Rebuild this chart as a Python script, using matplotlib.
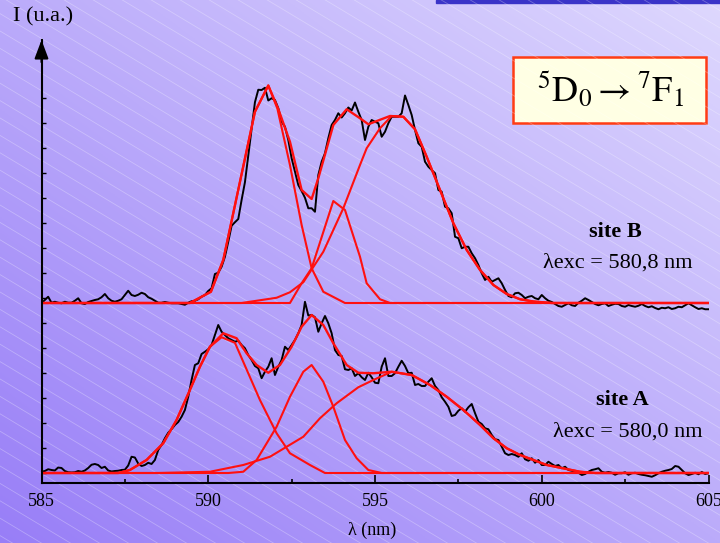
import numpy as np
import matplotlib.pyplot as plt
from matplotlib.patches import Rectangle

plt.rcParams['font.family'] = ['Liberation Serif', 'DejaVu Serif']
plt.rcParams['mathtext.fontset'] = 'stix'

# measured spectra, one value every 0.1 nm from 585 to 605 nm
site_a = [0.05, 0.08, 0.15, 0.12, 0.10, 0.22, 0.20, 0.08, 0.03, 0.02,
          0.03, 0.08, 0.05, 0.10, 0.20, 0.33, 0.36, 0.32, 0.20, 0.25,
          0.10, 0.06, 0.08, 0.09, 0.12, 0.13, 0.30, 0.65, 0.62, 0.38,
          0.28, 0.32, 0.41, 0.36, 0.52, 0.92, 1.12, 1.39, 1.61, 1.75,
          1.92, 2.04, 2.25, 2.52, 3.05, 3.72, 4.32, 4.39, 4.76, 4.85,
          4.95, 5.12, 5.52, 5.92, 5.65, 5.52, 5.39, 5.32, 5.25, 5.29,
          5.12, 4.99, 4.72, 4.52, 4.28, 4.19, 3.79, 4.05, 4.25, 4.59,
          3.92, 4.25, 4.52, 5.05, 4.92, 5.12, 5.32, 5.59, 5.92, 6.85,
          6.30, 6.32, 6.23, 5.65, 5.99, 6.28, 5.99, 5.59, 4.92, 4.72,
          4.68, 4.15, 4.12, 4.19, 3.88, 3.99, 3.83, 3.72, 4.01, 3.83,
          3.61, 3.59, 4.25, 4.59, 3.88, 3.88, 3.99, 4.25, 4.49, 4.28,
          3.99, 4.01, 3.52, 3.56, 3.48, 3.48, 3.65, 3.79, 3.48, 3.32,
          3.03, 2.85, 2.65, 2.28, 2.32, 2.49, 2.59, 2.45, 2.63, 2.76,
          2.39, 2.05, 1.96, 1.79, 1.75, 1.52, 1.35, 1.32, 1.05, 0.79,
          0.72, 0.76, 0.72, 0.65, 0.79, 0.55, 0.49, 0.59, 0.41, 0.52,
          0.32, 0.32, 0.45, 0.36, 0.28, 0.32, 0.19, 0.25, 0.12, 0.09,
          0.05, 0.01, -0.08, -0.04, 0.05, 0.12, 0.15, 0.19, 0.05, 0.01,
          0.04, 0.01, -0.07, -0.01, -0.01, 0.03, -0.07, -0.01, 0.01, -0.04,
          -0.07, -0.09, -0.12, -0.15, -0.09, -0.01, 0.05, 0.09, 0.12, 0.16,
          0.28, 0.25, 0.12, -0.01, -0.08, -0.04, 0.01, -0.05, 0.04, -0.04, -0.01]

site_b = [6.79, 6.92, 7.05, 6.81, 6.85, 6.81, 6.79, 6.85, 6.81, 6.81,
          6.89, 6.99, 6.79, 6.76, 6.84, 6.88, 6.92, 6.95, 7.03, 7.16,
          6.99, 6.89, 6.85, 6.89, 6.95, 7.12, 7.29, 7.12, 7.08, 7.13,
          7.21, 7.16, 7.03, 6.97, 6.89, 6.81, 6.81, 6.84, 6.81, 6.79,
          6.79, 6.79, 6.76, 6.73, 6.81, 6.87, 6.89, 6.95, 7.05, 7.12,
          7.28, 7.39, 7.96, 8.01, 8.25, 8.65, 9.25, 9.89, 10.03, 10.16,
          10.92, 11.63, 12.69, 13.76, 14.83, 15.33, 15.32, 15.41, 14.90, 14.99,
          14.92, 14.59, 14.05, 13.85, 13.32, 12.59, 12.05, 11.52, 11.28, 11.01,
          10.59, 10.59, 10.45, 11.92, 12.45, 12.79, 13.39, 13.92, 14.12, 14.39,
          14.22, 14.39, 14.62, 14.50, 14.82, 14.45, 14.12, 13.32, 13.85, 14.12,
          14.05, 13.99, 13.45, 13.65, 13.99, 14.25, 14.25, 14.25, 14.39, 15.10,
          14.72, 14.32, 13.72, 13.19, 13.05, 12.45, 12.25, 12.12, 11.99, 11.32,
          11.25, 10.65, 10.59, 10.39, 9.45, 9.39, 8.99, 9.05, 9.05, 8.79,
          8.59, 8.32, 7.99, 7.72, 7.85, 7.65, 7.72, 7.79, 7.59, 7.32,
          7.08, 7.03, 7.19, 7.21, 7.12, 6.99, 7.05, 7.08, 6.99, 6.95,
          7.12, 6.99, 6.89, 6.84, 6.76, 6.68, 6.65, 6.72, 6.79, 6.71,
          6.68, 6.81, 6.89, 6.99, 6.92, 6.84, 6.76, 6.71, 6.76, 6.79,
          6.68, 6.73, 6.77, 6.76, 6.68, 6.65, 6.72, 6.68, 6.65, 6.69,
          6.76, 6.68, 6.63, 6.67, 6.60, 6.55, 6.61, 6.59, 6.63, 6.56,
          6.59, 6.65, 6.63, 6.71, 6.79, 6.71, 6.63, 6.56, 6.59, 6.55, 6.55]

# fitted curves (sum and components)
b_sum_x = [585, 589.45, 590.08, 590.45, 591.4, 591.8, 592.1, 592.45, 592.8, 593.1, 593.3,
           593.75, 594.15, 594.55, 594.8, 595.45, 595.85, 596.2, 596.55, 596.95, 597.35,
           597.75, 598.15, 598.55, 598.95, 599.35, 599.75, 600.3, 605]
b_sum_y = [6.8, 6.8, 7.25, 8.52, 14.45, 15.5, 14.56, 13.25, 11.32, 10.96, 11.79,
           13.92, 14.55, 14.19, 13.95, 14.28, 14.25, 13.75, 12.65, 11.32, 9.99,
           8.92, 8.12, 7.52, 7.16, 6.95, 6.86, 6.8, 6.8]
b1_x = [585, 589.45, 590.08, 590.45, 591.4, 591.8, 592.07, 592.45, 592.8, 593.1, 593.45, 594.1, 605]
b1_y = [6.8, 6.8, 7.25, 8.52, 14.45, 15.5, 14.59, 12.32, 9.92, 8.19, 7.25, 6.8, 6.8]
b2_x = [585, 592.45, 592.8, 593.1, 593.75, 594.1, 594.55, 594.75, 595.15, 595.45, 605]
b2_y = [6.8, 6.8, 7.59, 8.19, 10.88, 10.52, 8.65, 7.59, 6.95, 6.8, 6.8]
b3_x = [585, 591.0, 592.05, 592.45, 592.85, 593.45, 594.05, 594.55, 594.75, 595.15, 595.5,
        595.85, 596.2, 596.55, 596.95, 597.35, 597.75, 598.15, 598.55, 598.95, 599.35,
        599.75, 600.3, 605]
b3_y = [6.8, 6.8, 7.01, 7.23, 7.63, 8.85, 10.59, 12.32, 12.99, 13.79, 14.28,
        14.25, 13.75, 12.65, 11.32, 9.99, 8.92, 8.12, 7.52, 7.16, 6.95,
        6.86, 6.8, 6.8]

a_sum_x = [585, 587.3, 587.65, 588.15, 588.65, 589.05, 589.45, 589.75, 590.05, 590.45,
           590.85, 591.15, 591.45, 591.8, 592.15, 592.5, 592.8, 593.1, 593.45, 593.75,
           594.15, 594.5, 594.95, 595.5, 596.1, 596.65, 597.15, 597.65, 598.15, 598.55,
           598.95, 599.35, 600.15, 601.15, 601.6, 605]
a_sum_y = [0, 0, 0.12, 0.52, 1.19, 2.12, 3.32, 4.25, 5.05, 5.59,
           5.39, 4.79, 4.32, 4.01, 4.32, 5.05, 5.85, 6.32, 5.92, 5.19,
           4.32, 4.01, 3.99, 4.05, 3.92, 3.52, 3.05, 2.52, 1.92, 1.39,
           0.99, 0.72, 0.32, 0.05, 0, 0]
a1_x = [585, 587.3, 587.65, 588.15, 588.65, 589.05, 589.45, 589.75, 590.05, 590.4,
        590.8, 591.55, 592.05, 592.45, 593.05, 593.5, 605]
a1_y = [0, 0, 0.12, 0.52, 1.19, 2.12, 3.32, 4.25, 5.05, 5.43,
        5.21, 2.92, 1.59, 0.79, 0.32, 0, 0]
a2_x = [585, 590.6, 591.05, 591.45, 592.05, 592.45, 592.85, 593.1, 593.45, 593.75,
        594.1, 594.45, 594.8, 595.2, 605]
a2_y = [0, 0, 0.05, 0.52, 1.85, 3.05, 4.05, 4.32, 3.65, 2.65,
        1.32, 0.59, 0.12, 0, 0]
a3_x = [585, 588.5, 590.05, 591.05, 591.85, 592.35, 592.85, 593.35, 593.85, 594.5,
        594.95, 595.5, 596.1, 596.65, 597.15, 597.65, 598.15, 598.55, 598.95, 599.35,
        600.15, 601.15, 601.6, 605]
a3_y = [0, 0, 0.05, 0.32, 0.65, 1.05, 1.45, 2.19, 2.79, 3.43,
        3.72, 4.05, 3.92, 3.52, 3.05, 2.52, 1.92, 1.39, 0.99, 0.72,
        0.32, 0.05, 0, 0]

x_ticks = [585, 590, 595, 600, 605]

lam_a = 585 + 0.1 * np.arange(len(site_a))
lam_b = 585 + 0.1 * np.arange(len(site_b))

fig = plt.figure(figsize=(7.2, 5.43), dpi=100)

# slide background: diagonal gradient + faint hatching
bg = fig.add_axes([0, 0, 1, 1], zorder=0)
c0 = np.array([152, 126, 247]) / 255
c1 = np.array([222, 216, 254]) / 255
xx, yy = np.meshgrid(np.linspace(0, 1, 300), np.linspace(1, 0, 230))
t = (xx + yy) / 2
bg.imshow(c0 + (c1 - c0) * t[..., None], extent=[0, 720, 0, 543], aspect='auto', origin='upper')
for c in np.arange(-10, 1000, 17.4):
    bg.plot([0, 720], [c, c - 0.6 * 720], color='white', lw=0.6, alpha=0.28)
bg.add_patch(Rectangle((436, 540.5), 284, 2.5, color='#3a34c8'))
bg.add_patch(Rectangle((513, 420), 193, 66, facecolor='#ffffe4', edgecolor='#ff3c14', lw=1.8))
bg.set_xlim(0, 720)
bg.set_ylim(0, 543)
bg.axis('off')

ax = fig.add_axes([41.5 / 720, 60 / 543, 667 / 720, 443 / 543], zorder=1)
ax.patch.set_alpha(0)

red = '#ff1010'
ax.plot(lam_b, site_b, color='black', lw=1.4)
ax.plot(lam_a, site_a, color='black', lw=1.4)
for xs, ys in [(b1_x, b1_y), (b2_x, b2_y), (b3_x, b3_y), (a1_x, a1_y), (a2_x, a2_y), (a3_x, a3_y)]:
    ax.plot(xs, ys, color=red, lw=1.5)
ax.plot(b_sum_x, b_sum_y, color=red, lw=1.7)
ax.plot(a_sum_x, a_sum_y, color=red, lw=1.7)

ax.set_xlim(585, 605)
ax.set_ylim(-0.4, 17.32)
ax.spines['top'].set_visible(False)
ax.spines['right'].set_visible(False)
ax.spines['left'].set_linewidth(1.5)
ax.spines['bottom'].set_linewidth(1.5)

ax.set_xticks(x_ticks)
ax.set_xticks([587.5, 592.5, 597.5, 602.5], minor=True)
ax.set_yticks(range(16))
ax.set_yticklabels([])
ax.tick_params(axis='x', which='major', direction='in', length=6, width=1.2, labelsize=13, pad=7)
ax.tick_params(axis='x', which='minor', direction='in', length=3, width=1.2)
ax.tick_params(axis='y', direction='in', length=3, width=1)

ax.annotate('', xy=(0, 1), xytext=(0, 0.95), xycoords='axes fraction',
            arrowprops=dict(arrowstyle='-|>,head_length=0.8,head_width=0.3', color='black',
                            lw=1.5, mutation_scale=14, shrinkA=0, shrinkB=0))

fig.text(13 / 720, 1 - 17 / 543, 'I (u.a.)', fontsize=16, ha='left', va='center')
fig.text(372 / 720, 1 - 530 / 543, 'λ (nm)', fontsize=13, ha='center', va='center')

fig.text(610 / 720, 1 - 90 / 543, r'$^{5}\mathrm{D}_{0} \rightarrow {}^{7}\mathrm{F}_{1}$',
         fontsize=26, ha='center', va='center')

fig.text(615 / 720, 1 - 232 / 543, 'site B', fontsize=16, fontweight='bold', ha='center', va='center')
fig.text(618 / 720, 1 - 263 / 543, 'λexc = 580,8 nm', fontsize=16, ha='center', va='center')
fig.text(622 / 720, 1 - 400 / 543, 'site A', fontsize=16, fontweight='bold', ha='center', va='center')
fig.text(628 / 720, 1 - 432 / 543, 'λexc = 580,0 nm', fontsize=16, ha='center', va='center')

fig.savefig('out.png', dpi=100)
